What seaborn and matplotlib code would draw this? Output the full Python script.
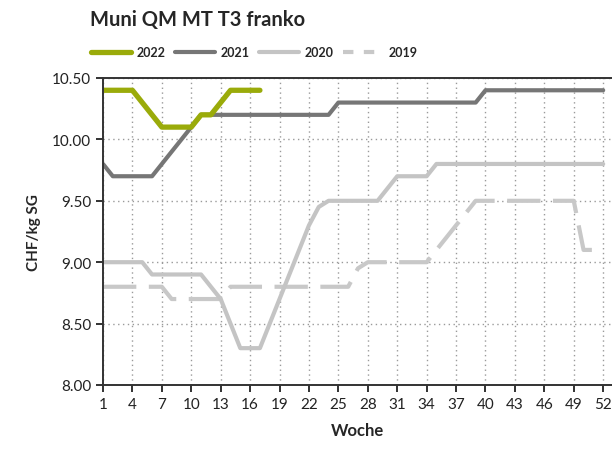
import matplotlib
matplotlib.use("Agg")
import matplotlib.pyplot as plt
import seaborn as sns
import pandas as pd
from matplotlib.lines import Line2D

weeks = list(range(1, 53))

price_2022 = [10.40, 10.40, 10.40, 10.40, 10.30, 10.20, 10.10, 10.10, 10.10, 10.10,
              10.20, 10.20, 10.30, 10.40, 10.40, 10.40, 10.40]
price_2021 = [9.80, 9.70, 9.70, 9.70, 9.70, 9.70, 9.80, 9.90, 10.00, 10.10] + \
             [10.20] * 14 + [10.30] * 15 + [10.40] * 13
price_2020 = [9.00] * 5 + [8.90] * 6 + [8.80, 8.70, 8.50, 8.30, 8.30, 8.30,
              8.50, 8.70, 8.90, 9.10, 9.30, 9.45] + [9.50] * 6 + [9.60] + \
             [9.70] * 4 + [9.80] * 18
price_2019 = [8.80] * 7 + [8.70] * 6 + [8.80] * 13 + [8.95] + [9.00] * 7 + \
             [9.10, 9.20, 9.30, 9.40] + [9.50] * 11 + [9.10, 9.10]

years = ["2022", "2021", "2020", "2019"]
colors = {"2022": "#9aab0a", "2021": "#767676", "2020": "#c4c4c4", "2019": "#c8c8c8"}
widths = {"2022": 3.8, "2021": 3.0, "2020": 3.0, "2019": 3.0}

series = {"2022": price_2022, "2021": price_2021, "2020": price_2020, "2019": price_2019}
rows = []
for y, vals in series.items():
    for w, v in zip(weeks, vals):
        rows.append({"Woche": w, "Preis": v, "Jahr": y})
df = pd.DataFrame(rows)

sns.set_style("white")
plt.rcParams['font.family'] = ['Lato', 'DejaVu Sans']

fig = plt.figure(figsize=(6.12, 4.56), dpi=100)
ax = fig.add_axes([103 / 612, 1 - 386 / 456, 1 - 103 / 612, (386 - 79) / 456])

for y in ["2019", "2020", "2021", "2022"]:
    sub = df[df["Jahr"] == y]
    line = sns.lineplot(data=sub, x="Woche", y="Preis", ax=ax, color=colors[y],
                        lw=widths[y], legend=False)
    if y == "2019":
        ax.lines[-1].set_dashes((8, 3))

ax.set_xlim(1, 52.9)
ax.set_ylim(8.0, 10.5)
ax.set_xticks(list(range(1, 53, 3)))
ax.set_yticks([8.0, 8.5, 9.0, 9.5, 10.0, 10.5])
ax.set_yticklabels([f"{t:.2f}" for t in ax.get_yticks()])
ax.tick_params(axis="both", direction="out", length=5, width=1.3, color="#222222",
               labelsize=11, labelcolor="#222222", bottom=True, left=True)
ax.grid(True, linestyle=(0, (1, 2.5)), color="#9a9a9a", lw=1.0)
for s in ["left", "bottom", "top"]:
    ax.spines[s].set_visible(True)
    ax.spines[s].set_color("#333333")
    ax.spines[s].set_linewidth(1.4)
ax.spines["right"].set_visible(False)

ax.set_xlabel("Woche", fontsize=12, fontweight="bold", labelpad=8)
ax.set_ylabel("CHF/kg SG", fontsize=11, fontweight="bold", labelpad=8)

fig.text(90 / 612, 1 - 20 / 456, "Muni QM MT T3 franko", fontsize=14.5,
         fontweight="bold", va="center", ha="left")

handles = []
for y in years:
    h = Line2D([0], [0], color=colors[y], lw=widths[y])
    if y == "2019":
        h.set_dashes((2.5, 2.5))
    handles.append(h)
fig.legend(handles=handles, labels=years, loc="center left", ncol=4,
           bbox_to_anchor=(80 / 612, 1 - 53 / 456), frameon=False,
           handlelength=3.2, handletextpad=0.4, columnspacing=0.8,
           prop={"weight": "bold", "size": 9})

plt.savefig("out.png", dpi=100)
